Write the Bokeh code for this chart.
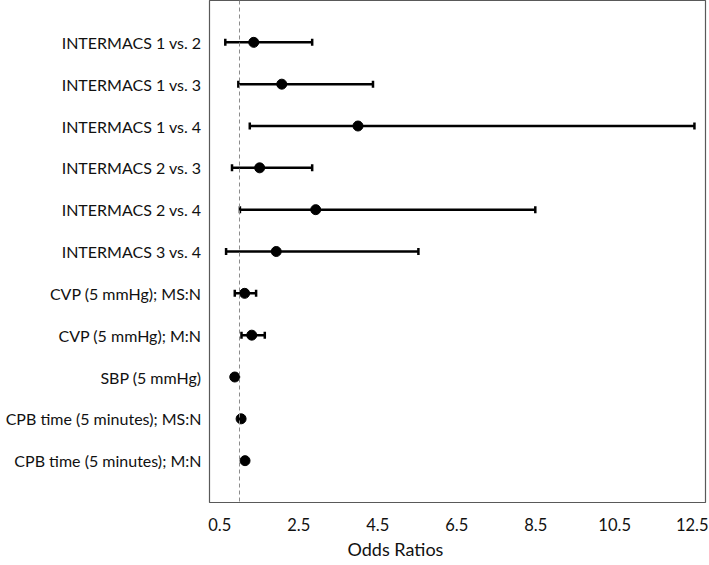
from bokeh.plotting import figure
from bokeh.models import Range1d, FixedTicker, Span, Whisker, ColumnDataSource, Title, TeeHead
from bokeh.embed import file_html
from bokeh.resources import INLINE

labels = [
    "INTERMACS 1 vs. 2",
    "INTERMACS 1 vs. 3",
    "INTERMACS 1 vs. 4",
    "INTERMACS 2 vs. 3",
    "INTERMACS 2 vs. 4",
    "INTERMACS 3 vs. 4",
    "CVP (5 mmHg); MS:N",
    "CVP (5 mmHg); M:N",
    "SBP (5 mmHg)",
    "CPB time (5 minutes); MS:N",
    "CPB time (5 minutes); M:N",
]
odds = [1.36, 2.07, 4.00, 1.51, 2.93, 1.93, 1.13, 1.31, 0.88, 1.04, 1.14]
lower = [0.64, 0.97, 1.26, 0.81, 1.01, 0.66, 0.88, 1.05, 0.86, 1.02, 1.12]
upper = [2.84, 4.38, 12.52, 2.84, 8.49, 5.53, 1.42, 1.64, 0.90, 1.06, 1.16]
x_ticks = [0.5, 2.5, 4.5, 6.5, 8.5, 10.5, 12.5]

rows = list(range(1, len(labels) + 1))
src = ColumnDataSource(dict(row=rows, odds=odds, lower=lower, upper=upper))

FONT = "Lato"

p = figure(frame_width=496, frame_height=502, output_backend="svg", toolbar_location=None,
           x_range=Range1d(0.24, 12.8), y_range=Range1d(12, 0),
           min_border_left=209, min_border_right=3, min_border_top=0, min_border_bottom=10)
p.grid.visible = False
p.outline_line_color = "#595959"
p.outline_line_width = 1.2
p.background_fill_color = "white"
p.border_fill_color = "white"

p.xaxis.ticker = FixedTicker(ticks=x_ticks)
p.xaxis.major_label_overrides = {t: str(t) for t in x_ticks}
p.xaxis.axis_line_color = None
p.xaxis.major_tick_line_color = None
p.xaxis.minor_tick_line_color = None
p.xaxis.major_label_text_font = FONT
p.xaxis.major_label_text_font_size = "16.5px"
p.xaxis.major_label_text_color = "#111111"
p.xaxis.major_label_standoff = 9

p.yaxis.ticker = FixedTicker(ticks=rows)
p.yaxis.major_label_overrides = {r: l for r, l in zip(rows, labels)}
p.yaxis.axis_line_color = None
p.yaxis.major_tick_line_color = None
p.yaxis.minor_tick_line_color = None
p.yaxis.major_label_text_font = FONT
p.yaxis.major_label_text_font_size = "16px"
p.yaxis.major_label_text_color = "#111111"
p.yaxis.major_label_standoff = 2

p.add_layout(Span(location=1, dimension="height", line_color="#8c8c8c",
                  line_dash="4 3", line_width=1))

w = Whisker(source=src, base="row", lower="lower", upper="upper", dimension="width",
            line_color="black", line_width=2.5,
            lower_head=TeeHead(size=7, line_color="black", line_width=2.5),
            upper_head=TeeHead(size=7, line_color="black", line_width=2.5))
p.add_layout(w)

p.scatter(x="odds", y="row", source=src, size=10, color="black")

p.add_layout(Title(text="Odds Ratios", text_font=FONT, text_font_size="18px",
                   text_font_style="normal", text_color="#111111",
                   align="left", offset=138, standoff=5), "below")

open("out.html", "w").write(file_html(p, INLINE))
